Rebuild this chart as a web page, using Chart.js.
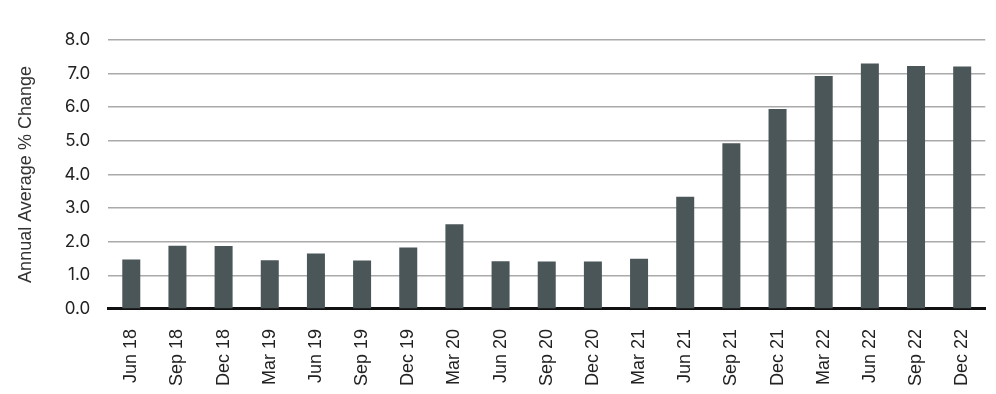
<!DOCTYPE html>
<html>
<head>
<meta charset="utf-8">
<script src="https://cdn.jsdelivr.net/npm/chart.js@4"></script>
<style>
  html, body { margin: 0; padding: 0; background: #fff; }
  #wrap { width: 996px; height: 394px; }
</style>
</head>
<body>
<div id="wrap"><canvas id="barChart" width="996" height="394"></canvas></div>
<script>
// categorias (trimestres)
const quarters = ['Jun 18', 'Sep 18', 'Dec 18', 'Mar 19', 'Jun 19', 'Sep 19', 'Dec 19', 'Mar 20',
  'Jun 20', 'Sep 20', 'Dec 20', 'Mar 21', 'Jun 21', 'Sep 21', 'Dec 21', 'Mar 22', 'Jun 22', 'Sep 22', 'Dec 22'];
// variação média anual (%)
const annualChange = [1.47, 1.88, 1.87, 1.45, 1.65, 1.44, 1.83, 2.52,
  1.42, 1.41, 1.41, 1.49, 3.34, 4.93, 5.95, 6.93, 7.30, 7.23, 7.21];
const yMin = 0;
const yMax = 8;
const yStep = 1;

document.addEventListener('DOMContentLoaded', () => {
  const ctx = document.getElementById('barChart').getContext('2d');
  new Chart(ctx, {
    type: 'bar',
    data: {
      labels: quarters,
      datasets: [{
        label: 'Annual Average % Change',
        data: annualChange,
        backgroundColor: '#4b5659',
        barPercentage: 0.6,
        categoryPercentage: 0.65
      }]
    },
    options: {
      responsive: false,
      animation: false,
      layout: { padding: { top: 40, right: 8, bottom: -4, left: 11 } },
      plugins: { legend: { display: false }, tooltip: { enabled: false } },
      scales: {
        x: {
          grid: { display: false },
          border: { display: true, color: '#111', width: 3 },
          ticks: {
            color: '#222',
            font: { family: 'Liberation Sans', size: 18 },
            minRotation: 90,
            maxRotation: 90,
            padding: 12
          }
        },
        y: {
          min: yMin,
          max: yMax,
          grid: { color: '#aaaaaa', lineWidth: 1.5, drawTicks: false },
          border: { display: false },
          ticks: {
            stepSize: yStep,
            color: '#222',
            padding: 18,
            font: { family: 'Inter', size: 17 },
            callback: v => v.toFixed(1)
          },
          title: {
            display: true,
            text: 'Annual Average % Change',
            color: '#333',
            font: { family: 'Liberation Sans', size: 18 },
            padding: { bottom: 10 }
          }
        }
      }
    }
  });
});
</script>
</body>
</html>
